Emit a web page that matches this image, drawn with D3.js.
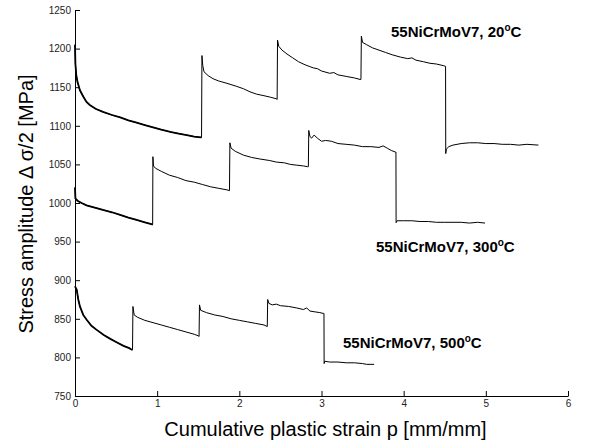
<!DOCTYPE html>
<html><head><meta charset="utf-8">
<script src="https://cdn.jsdelivr.net/npm/d3@7"></script>
<style>body{margin:0;background:#fff}svg{display:block}text{font-family:Arial,"Liberation Sans",Helvetica,sans-serif}</style>
</head><body><svg id="c" width="590" height="446"></svg>
<script>
// ---- data ----
const xTicks = [0,1,2,3,4,5,6];
const yTicks = [750,800,850,900,950,1000,1050,1100,1150,1200,1250];
const xTitle = "Cumulative plastic strain p [mm/mm]";
const yTitle = "Stress amplitude \u0394 \u03c3/2 [MPa]";

// 20 °C
const p20 = [0,0.005,0.015,0.03,0.06,0.1,0.14,0.18,0.25,0.34,0.45,0.55,0.65,0.75,0.85,0.95,1.05,1.16,1.26,1.36,1.45,1.53,1.54,
  1.545,1.555,1.57,1.62,1.68,1.75,1.85,1.97,2.05,2.13,2.21,2.3,2.38,2.45,2.46,
  2.465,2.48,2.52,2.58,2.65,2.72,2.8,2.85,2.9,2.95,3.0,3.1,3.15,3.2,3.3,3.4,3.47,3.48,
  3.485,3.5,3.55,3.62,3.7,3.78,3.86,3.96,4.05,4.1,4.15,4.24,4.32,4.4,4.48,4.51,
  4.512,4.52,4.55,4.6,4.7,4.8,4.9,5.0,5.1,5.2,5.3,5.4,5.5,5.64];
const s20 = [1205,1180,1166,1157,1146,1138,1131,1127,1122,1118,1114,1111,1107,1104,1101,1098,1095,1092,1090,1088,1086,1085,1085,
  1191,1178,1170,1165,1161,1158,1155,1151,1148,1144,1141,1139,1137,1135,1134,
  1211,1203,1198,1193,1188,1183,1179,1177,1175,1174,1171,1168,1169,1166,1164,1162,1160,1160,
  1216,1208,1205,1201,1198,1195,1192,1189,1187,1188,1185,1183,1181,1180,1178,1177,
  1064,1070,1073,1075,1077,1078,1078,1077,1077,1076,1076,1075,1076,1075];

// 300 °C
const p300 = [0,0.005,0.03,0.08,0.14,0.24,0.34,0.45,0.55,0.65,0.75,0.85,0.93,0.945,
  0.948,0.955,0.98,1.05,1.15,1.25,1.35,1.45,1.55,1.65,1.75,1.85,1.88,
  1.885,1.9,1.95,2.05,2.15,2.25,2.37,2.45,2.55,2.62,2.7,2.78,2.83,2.84,
  2.845,2.86,2.88,2.91,2.95,3.0,3.05,3.12,3.2,3.3,3.4,3.5,3.6,3.7,3.75,3.8,3.85,3.9,3.906,
  3.908,3.92,4.0,4.1,4.2,4.3,4.4,4.5,4.6,4.7,4.8,4.9,4.99];
const s300 = [1020,1006,1003,1000,997,994,991,988,984.5,981,978,975,972.5,972,
  1060,1048,1045,1041,1036,1033,1029,1027,1024,1021,1019,1017,1016,
  1078,1071,1067,1062,1059,1057,1055,1053,1052,1050,1049,1048,1047,1047,
  1094,1086,1084,1088,1084,1080,1081,1080,1077,1076,1075,1073,1073,1072,1074,1071,1068,1066,1066,
  974.5,977,977,977,976,976,975,975,975,975,974,975,974];

// 500 °C
const p500 = [0,0.02,0.04,0.06,0.1,0.14,0.2,0.26,0.35,0.43,0.5,0.59,0.66,0.69,0.70,
  0.705,0.72,0.76,0.85,0.95,1.05,1.15,1.25,1.35,1.45,1.5,1.51,
  1.515,1.53,1.6,1.7,1.8,1.9,2.0,2.1,2.2,2.3,2.34,
  2.345,2.36,2.4,2.45,2.5,2.6,2.7,2.78,2.82,2.86,2.92,2.98,3.02,3.03,
  3.032,3.04,3.1,3.2,3.3,3.4,3.5,3.55,3.64];
const s500 = [892,888,875,866,855,849,841,836,829,824,820,815,812,810,810,
  866,855,852,848,845,842,839,836,833,830,828,827,
  868,861,858,855,853,850,848,846,844,842,840,
  875,870,868,869,867,866,864,862,864,860,859,858,857,857,
  792,795,794,794,793,793,792,791,791];

const labels = ["55NiCrMoV7, 20", "55NiCrMoV7, 300", "55NiCrMoV7, 500"];
const firstJump = [1.54, 0.945, 0.70];

// ---- layout ----
const svg = d3.select("#c");
const L = 75, R = 568, T = 10, B = 396;
const x = d3.scaleLinear().domain([0,6]).range([L,R]);
const y = d3.scaleLinear().domain([750,1250]).range([B,T]);

const line = d3.line().x(d=>x(d[0])).y(d=>y(d[1]));
const series = [[p20,s20],[p300,s300],[p500,s500]];
series.forEach(([ps,ss],i)=>{
  const pts = ps.map((p,k)=>[p,ss[k]]);
  svg.append("path").attr("d",line(pts)).attr("fill","none").attr("stroke","#000").attr("stroke-width",1);
  const first = pts.filter(d=>d[0]<=firstJump[i]);
  svg.append("path").attr("d",line(first)).attr("fill","none").attr("stroke","#000").attr("stroke-width",1.8);
});

// axes
const xa = svg.append("g").attr("transform",`translate(0,${B})`)
  .call(d3.axisBottom(x).tickValues(xTicks).tickFormat(d3.format("d")).tickSizeInner(-5).tickSizeOuter(0).tickPadding(4));
const ya = svg.append("g").attr("transform",`translate(${L},0)`)
  .call(d3.axisLeft(y).tickValues(yTicks).tickFormat(d3.format("d")).tickSizeInner(-5).tickSizeOuter(0).tickPadding(4));
[xa,ya].forEach(g=>{
  g.select(".domain").attr("stroke","#000");
  g.selectAll(".tick line").attr("stroke","#000");
  g.selectAll(".tick text").attr("font-size",10).attr("fill","#222").attr("font-family","Arial, Liberation Sans, sans-serif");
});
ya.selectAll(".tick text").attr("x",-4);

svg.append("text").attr("x",(L+R)/2+4).attr("y",436).attr("text-anchor","middle")
  .attr("font-size",20).text(xTitle);
svg.append("text").attr("transform",`translate(33,204) rotate(-90)`).attr("text-anchor","middle")
  .attr("font-size",20).text(yTitle);

const labPos = [[391,37],[376,252],[343,348]];
labels.forEach((t,i)=>{
  const tx = svg.append("text").attr("x",labPos[i][0]).attr("y",labPos[i][1])
    .attr("font-size",15).attr("font-weight","bold");
  tx.append("tspan").text(t);
  tx.append("tspan").attr("dy",-6).attr("font-size",10).text("o");
  tx.append("tspan").attr("dy",6).text("C");
});
</script></body></html>
